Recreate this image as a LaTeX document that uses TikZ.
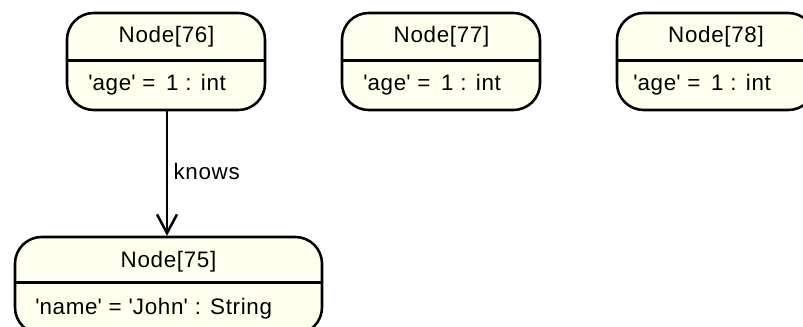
\documentclass[tikz,border=0pt]{standalone}
\usepackage{fontspec}
\setmainfont{Liberation Sans}[LetterSpace=3]
\usetikzlibrary{arrows.meta}
\definecolor{nodefill}{RGB}{255,255,238}
\newcommand{\sq}{\textquotesingle}
\tikzset{
  x=0.75pt, y=-0.75pt,
  nodebox/.style={draw=black, line width=1.9pt, fill=nodefill, rounded corners=20pt, inner sep=0pt, minimum height=72.75pt},
  titletext/.style={font=\fontsize{16.8}{19}\selectfont, inner sep=0pt, anchor=center},
  attrtext/.style={font=\fontsize{16.8}{19}\selectfont, inner sep=0pt, anchor=west},
  divider/.style={line width=1.9pt},
  edge/.style={line width=1.9pt, -{Straight Barb[length=14pt, width=15pt, line width=1.9pt]}},
  edgelabel/.style={font=\fontsize{16.8}{19}\selectfont, inner sep=0pt, anchor=west}
}
\begin{document}
\begin{tikzpicture}
\useasboundingbox (0,0) rectangle (803,327);
\clip (0,0) rectangle (803,327);
% boxes
\node[nodebox, minimum width=148.5pt] (n76) at (166,61.5) {};
\node[nodebox, minimum width=148.5pt] (n77) at (441,61.5) {};
\node[nodebox, minimum width=148.5pt] (n78) at (716,61.5) {};
\node[nodebox, minimum width=230.25pt] (n75) at (168.5,285.5) {};
% dividers
\draw[divider] ([yshift=-36.75pt]n76.north west) -- ([yshift=-36.75pt]n76.north east);
\draw[divider] ([yshift=-36.75pt]n77.north west) -- ([yshift=-36.75pt]n77.north east);
\draw[divider] ([yshift=-36.75pt]n78.north west) -- ([yshift=-36.75pt]n78.north east);
\draw[divider] ([yshift=-35.25pt]n75.north west) -- ([yshift=-35.25pt]n75.north east);
% texts
\node[titletext] (t76) at (166.5,37) {Node[76]};
\node[attrtext] (a76) at (88,85) {\sq age\sq{} = \,1 : int};
\node[titletext] (t77) at (441.5,37) {Node[77]};
\node[attrtext] (a77) at (363,85) {\sq age\sq{} = \,1 : int};
\node[titletext] (t78) at (716,37) {Node[78]};
\node[attrtext] (a78) at (633,85) {\sq age\sq{} = \,1 : int};
\node[titletext] (t75) at (168.5,262) {Node[75]};
\node[attrtext] (a75) at (35,309) {\sq name\sq{} = \sq John\sq{} : String};
% edge
\draw[edge] (n76.south -| 167,0) -- (n75.north -| 167,0) node[pos=0.48, edgelabel, xshift=4pt] (lk) {knows};
\end{tikzpicture}
\end{document}
